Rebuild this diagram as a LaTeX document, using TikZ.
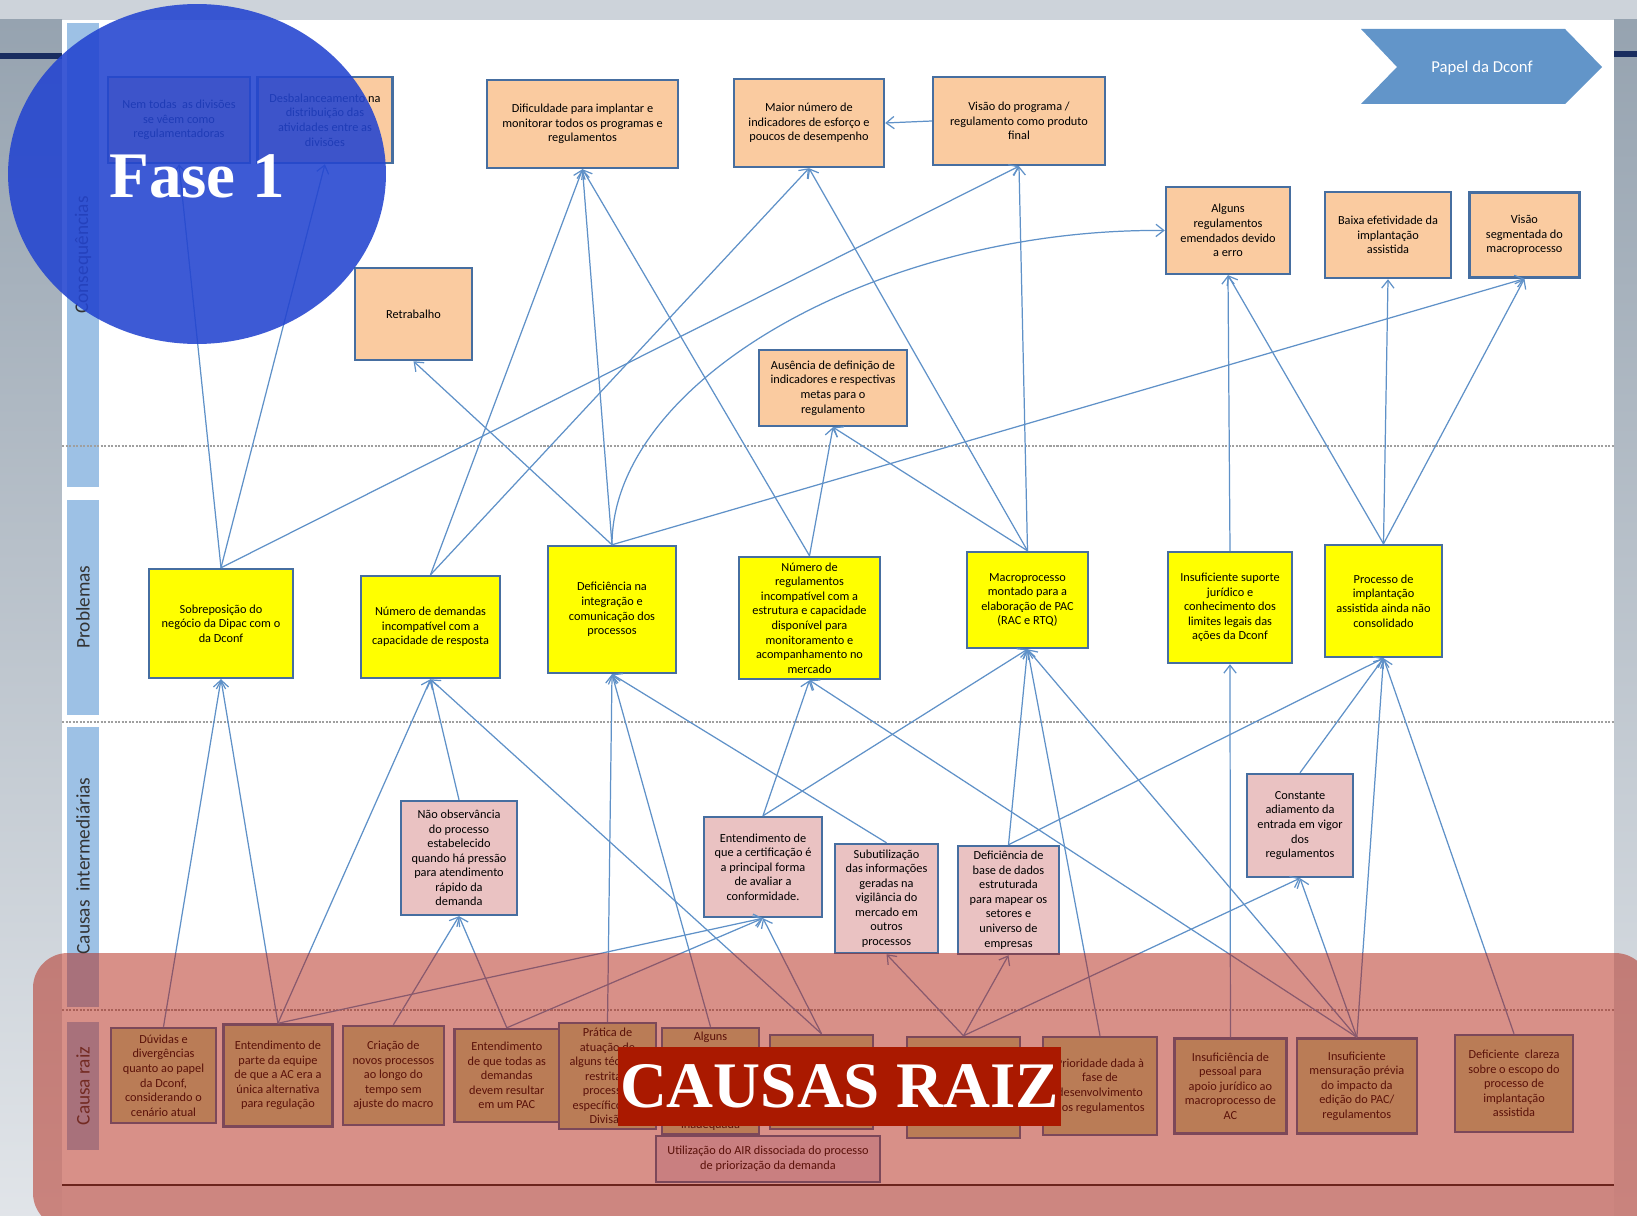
\documentclass[tikz,border=0pt]{standalone}
\usepackage{fontspec}
\setmainfont{Carlito}
\newfontfamily\titleserif{Liberation Serif}
\usetikzlibrary{shapes.geometric, arrows.meta, positioning}
\definecolor{boxline}{RGB}{70,110,160}
\definecolor{linkblue}{RGB}{95,145,200}
\definecolor{conseqorange}{RGB}{250,203,160}
\definecolor{problemyellow}{RGB}{255,255,0}
\definecolor{intermpink}{RGB}{234,194,194}
\definecolor{raizolive}{RGB}{195,214,155}
\definecolor{airlavender}{RGB}{225,220,238}
\definecolor{bandblue}{RGB}{157,193,229}
\definecolor{papelblue}{RGB}{98,149,201}
\definecolor{fasecircle}{RGB}{35,68,208}
\definecolor{raizoverlay}{RGB}{179,35,19}
\definecolor{causasred}{RGB}{170,25,0}
\definecolor{slidegrey}{RGB}{205,211,218}
\definecolor{slidedark}{RGB}{150,163,176}
\definecolor{slidenavy}{RGB}{25,45,95}
\newcommand{\boxfont}{\fontsize{7}{8.3}\selectfont}

\begin{document}
\begin{tikzpicture}[
    x=0.02cm, y=-0.02cm,
    basebox/.style={rectangle, draw=boxline, line width=1.4pt, align=center, inner sep=1pt, font=\boxfont, text=black},
    boxsize/.style 2 args={minimum width=#1cm, minimum height=#2cm},
    conseq/.style={basebox, fill=conseqorange},
    problem/.style={basebox, fill=problemyellow},
    interm/.style={basebox, fill=intermpink},
    raiz/.style={basebox, fill=raizolive},
    band/.style={fill=bandblue},
    bandlabel/.style={rotate=90, font=\fontsize{11}{13}\selectfont, text=black!80},
    sepline/.style={gray!75, line width=0.7pt, dash pattern=on 1.2pt off 0.8pt},
    arrow/.style={->, >={Straight Barb[length=4.5pt, width=7pt]}, line width=0.7pt, draw=linkblue},
    bigtitle/.style={font=\titleserif\bfseries\fontsize{37}{37}\selectfont, text=white, inner sep=1pt}
]
    % Slide background
    \clip (0,0) rectangle (1637,1216);
    \fill[slidegrey] (0,0) rectangle (1637,1216);
    \shade[top color=slidedark, bottom color=slidegrey!60] (0,20) rectangle (62,1216);
    \shade[top color=slidedark, bottom color=slidegrey!60] (1614,20) rectangle (1637,1216);
    \fill[slidegrey!45] (62,1185) rectangle (1614,1216);
    \fill[white] (62,20) rectangle (1614,1185);
    \fill[slidenavy] (0,53) rectangle (62,59);
    \fill[slidenavy] (1614,51) rectangle (1637,57);

    % Row bands
    \fill[band] (67,23) rectangle (99,487);
    \fill[band] (67,500) rectangle (99,715);
    \fill[band] (67,727) rectangle (99,1007);
    \fill[band] (67,1022) rectangle (99,1150);
    \node[bandlabel] (lblconseq) at (83,255) {Consequências};
    \node[bandlabel] (lblprob) at (83,607) {Problemas};
    \node[bandlabel] (lblinterm) at (83,866) {Causas~ intermediárias};
    \node[bandlabel] (lblraiz) at (83,1086) {Causa raiz};

    % Row separators
    \draw[sepline] (62,446) -- (1614,446);
    \draw[sepline] (62,722) -- (1614,722);
    \draw[sepline] (62,1010) -- (1614,1010);
    \draw[black!85, line width=0.9pt] (62,1185) -- (1614,1185);

    % Papel da Dconf
    \fill[papelblue] (1361,29) -- (1565,29) -- (1602,67) -- (1565,104) -- (1361,104) -- (1397,67) -- cycle;
    \node[text=white, font=\fontsize{9.5}{11}\selectfont] (papel) at (1482,68) {Papel da Dconf};

    % Consequences
    \node[conseq, boxsize={2.84}{1.72}] (nemtodas) at (179,120) {Nem todas~ as divisões\\se vêem como\\regulamentadoras};
    \node[conseq, boxsize={2.70}{1.72}, right=0.1cm of nemtodas] (desbal) {Desbalanceamento na\\distribuição das\\atividades entre as\\divisões};
    \node[conseq, boxsize={3.82}{1.76}] (dific) at (582.5,124) {Dificuldade para implantar e\\monitorar todos os programas e\\regulamentos};
    \node[conseq, boxsize={3.00}{1.76}] (maior) at (809,123) {Maior número de\\indicadores de esforço e\\poucos de desempenho};
    \node[conseq, boxsize={3.44}{1.76}] (visaoprog) at (1019,121) {Visão do programa /\\regulamento como produto\\final};
    \node[conseq, boxsize={2.34}{1.84}] (retrab) at (413.5,314) {Retrabalho};
    \node[conseq, boxsize={2.96}{1.52}] (ausencia) at (833,388) {Ausência de definição de\\indicadores e respectivas\\metas para o\\regulamento};
    \node[conseq, boxsize={2.48}{1.74}] (emendados) at (1228,230.5) {Alguns\\regulamentos\\emendados devido\\a erro};
    \node[conseq, boxsize={2.52}{1.72}] (baixa) at (1388,235) {Baixa efetividade da\\implantação\\assistida};
    \node[conseq, boxsize={2.20}{1.70}, right=0.32cm of baixa] (visaoseg) {Visão\\segmentada do\\macroprocesso};

    % Problems
    \node[problem, boxsize={2.88}{2.18}] (sobrep) at (221,623.5) {Sobreposição do\\negócio da Dipac com o\\da Dconf};
    \node[problem, boxsize={2.78}{2.04}] (demandas) at (430.5,627) {Número de demandas\\incompatível com a\\capacidade de resposta};
    \node[problem, boxsize={2.56}{2.54}] (integr) at (612,609.5) {Deficiência na\\integração e\\comunicação dos\\processos};
    \node[problem, boxsize={2.82}{2.44}] (numreg) at (809.5,618) {Número de\\regulamentos\\incompatível com a\\estrutura e capacidade\\disponível para\\monitoramento e\\acompanhamento no\\mercado};
    \node[problem, boxsize={2.42}{1.92}] (macro) at (1027.5,600) {Macroprocesso\\montado para a\\elaboração de PAC\\(RAC e RTQ)};
    \node[problem, boxsize={2.48}{2.22}] (juridico) at (1230,607.5) {Insuficiente suporte\\jurídico e\\conhecimento dos\\limites legais das\\ações da Dconf};
    \node[problem, boxsize={2.34}{2.24}] (implant) at (1383.5,601) {Processo de\\implantação\\assistida ainda não\\consolidado};

    % Intermediate causes
    \node[interm, boxsize={2.32}{2.28}] (naoobs) at (459,858) {Não observância\\do processo\\estabelecido\\quando há pressão\\para atendimento\\rápido da\\demanda};
    \node[interm, boxsize={2.36}{2.00}] (certif) at (763,867) {Entendimento de\\que a certificação é\\a principal forma\\de avaliar a\\conformidade.};
    \node[interm, boxsize={2.06}{2.18}] (subutil) at (886.5,898.5) {Subutilização\\das informações\\geradas na\\vigilância do\\mercado em\\outros\\processos};
    \node[interm, boxsize={2.02}{2.16}] (basedados) at (1008.5,900) {Deficiência de\\base de dados\\estruturada\\para mapear os\\setores e\\universo de\\empresas};
    \node[interm, boxsize={2.12}{2.06}] (adiamento) at (1300,825.5) {Constante\\adiamento da\\entrada em vigor\\dos\\regulamentos};

    % Root causes
    \node[raiz, boxsize={2.10}{1.90}] (duvidas) at (163.5,1075.5) {Dúvidas e\\divergências\\quanto ao papel\\da Dconf,\\considerando o\\cenário atual};
    \node[raiz, boxsize={2.18}{2.04}, right=0.1cm of duvidas] (acunica) {Entendimento de\\parte da equipe\\de que a AC era a\\única alternativa\\para regulação};
    \node[raiz, boxsize={2.02}{1.98}, right=0.16cm of acunica] (criacao) {Criação de\\novos processos\\ao longo do\\tempo sem\\ajuste do macro};
    \node[raiz, boxsize={2.10}{1.86}, right=0.16cm of criacao] (todasdem) {Entendimento\\de que todas as\\demandas\\devem resultar\\em um PAC};
    \node[raiz, boxsize={1.94}{2.12}] (pratica) at (607.5,1076) {Prática de\\atuação de\\alguns técnicos\\restrita a\\processos\\específicos da\\Divisão};
    \node[raiz, boxsize={1.94}{2.12}] (alguns) at (710.5,1081) {Alguns\\~\\~\\~\\~\\~\\inadequada};
    \node[raiz, boxsize={2.06}{1.88}] (raizsete) at (821.5,1082) {};
    \node[raiz, boxsize={2.26}{2.02}] (raizoito) at (963.5,1087.5) {};
    \node[raiz, boxsize={2.28}{1.96}] (prioridade) at (1100,1086) {Prioridade dada à\\fase de\\desenvolvimento\\dos regulamentos};
    \node[raiz, boxsize={2.24}{1.90}, right=0.3cm of prioridade] (pessoal) {Insuficiência de\\pessoal para\\apoio jurídico ao\\macroprocesso de\\AC};
    \node[raiz, boxsize={2.40}{1.90}, right=0.16cm of pessoal] (mensur) {Insuficiente\\mensuração prévia\\do impacto da\\edição do PAC/\\regulamentos};
    \node[raiz, boxsize={2.36}{1.94}] (clareza) at (1514,1083.5) {Deficiente~ clareza\\sobre o escopo do\\processo de\\implantação\\assistida};
    \node[raiz, fill=airlavender, boxsize={4.48}{0.92}] (air) at (768,1159) {Utilização do AIR dissociada do processo\\de priorização da demanda};

    % Problems to consequences
    \draw[arrow] (sobrep.north) -- (nemtodas.south);
    \draw[arrow] (sobrep.north) -- (desbal.south);
    \draw[arrow] (sobrep.north) -- (visaoprog.south);
    \draw[arrow] (demandas.north) -- (dific.south);
    \draw[arrow] (demandas.north) -- (maior.south);
    \draw[arrow] (integr.north) -- (retrab.south);
    \draw[arrow] (integr.north) -- (dific.south);
    \draw[arrow] (integr.north) .. controls (612,380) and (880,228) .. (emendados.west);
    \draw[arrow] (integr.north) -- (visaoseg.south);
    \draw[arrow] (numreg.north) -- (dific.south);
    \draw[arrow] (numreg.north) -- (ausencia.south);
    \draw[arrow] (macro.north) -- (maior.south);
    \draw[arrow] (macro.north) -- (visaoprog.south);
    \draw[arrow] (macro.north) -- (ausencia.south);
    \draw[arrow] (juridico.north) -- (emendados.south);
    \draw[arrow] (implant.north) -- (emendados.south);
    \draw[arrow] (implant.north) -- (baixa.south);
    \draw[arrow] (implant.north) -- (visaoseg.south);
    \draw[arrow] (visaoprog.west) -- (maior.east);

    % Causes to problems
    \draw[arrow] (duvidas.north) -- (sobrep.south);
    \draw[arrow] (acunica.north) -- (sobrep.south);
    \draw[arrow] (acunica.north) -- (demandas.south);
    \draw[arrow] (acunica.north) -- (certif.south);
    \draw[arrow] (naoobs.north) -- (demandas.south);
    \draw[arrow] (raizsete.north) -- (demandas.south);
    \draw[arrow] (raizsete.north) -- (certif.south);
    \draw[arrow] (criacao.north) -- (naoobs.south);
    \draw[arrow] (todasdem.north) -- (naoobs.south);
    \draw[arrow] (todasdem.north) -- (certif.south);
    \draw[arrow] (pratica.north) -- (integr.south);
    \draw[arrow] (alguns.north) -- (integr.south);
    \draw[arrow] (subutil.north) -- (integr.south);
    \draw[arrow] (certif.north) -- (numreg.south);
    \draw[arrow] (mensur.north) -- (numreg.south);
    \draw[arrow] (certif.north) -- (macro.south);
    \draw[arrow] (basedados.north) -- (macro.south);
    \draw[arrow] (prioridade.north) -- (macro.south);
    \draw[arrow] (mensur.north) -- (macro.south);
    \draw[arrow] (pessoal.north) -- (juridico.south);
    \draw[arrow] (basedados.north) -- (implant.south);
    \draw[arrow] (adiamento.north) -- (implant.south);
    \draw[arrow] (mensur.north) -- (implant.south);
    \draw[arrow] (clareza.north) -- (implant.south);
    \draw[arrow] (raizoito.north) -- (subutil.south);
    \draw[arrow] (raizoito.north) -- (basedados.south);
    \draw[arrow] (raizoito.north) -- (adiamento.south);
    \draw[arrow] (mensur.north) -- (adiamento.south);

    % Highlights
    \fill[fasecircle, opacity=0.88] (197,174) ellipse [x radius=3.78cm, y radius=3.4cm];
    \fill[raizoverlay, opacity=0.5, rounded corners=0.7cm] (33,953) rectangle (1650,1228);
    \node[bigtitle] (fase) at (197,176) {Fase 1};
    \node[bigtitle, fill=causasred, minimum width=8.82cm, minimum height=1.58cm] (causas) at (839.5,1086.5) {CAUSAS RAIZ};
\end{tikzpicture}
\end{document}
